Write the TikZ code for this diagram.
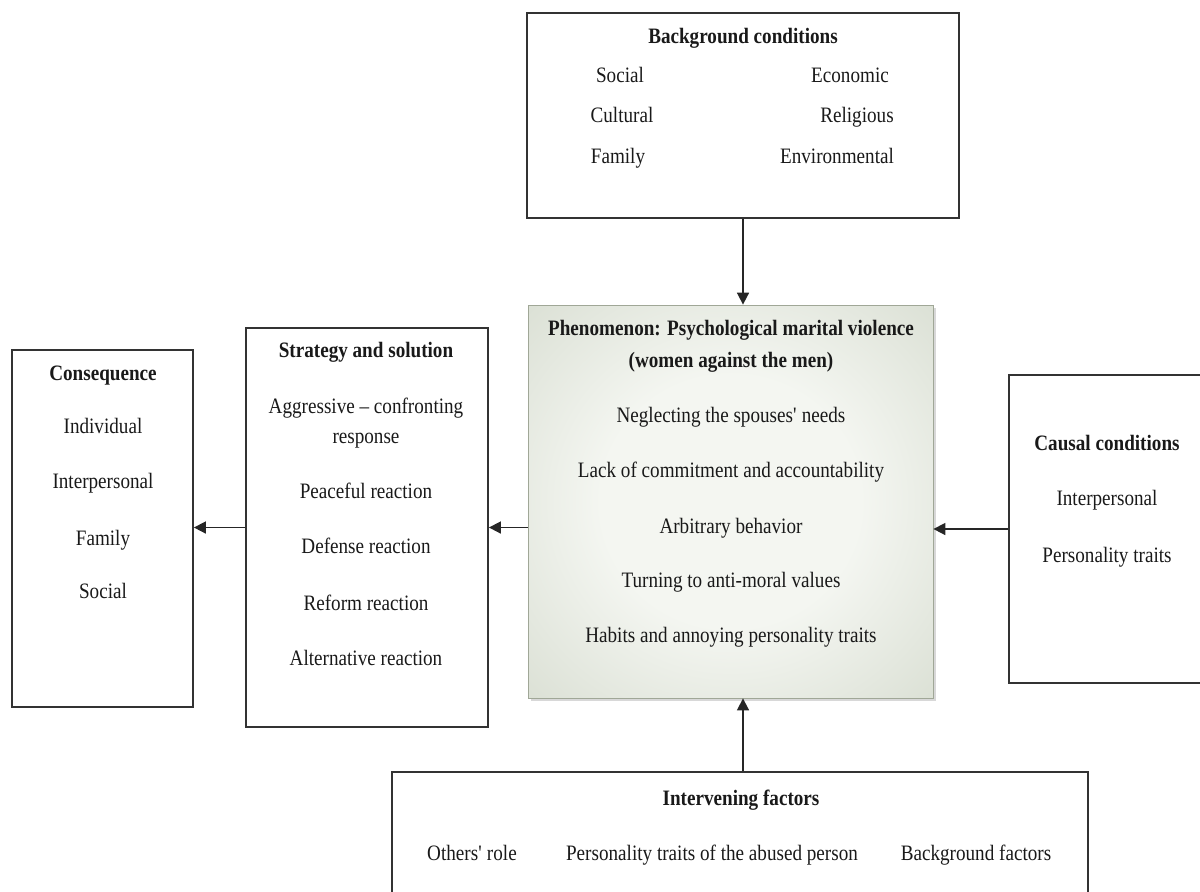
\documentclass[tikz,border=0pt]{standalone}
\usepackage{fontspec}
\setmainfont{Liberation Serif}[FakeStretch=0.87]
\usepackage{tikz}
\usetikzlibrary{arrows.meta, shadows}

\definecolor{phenedge}{RGB}{188,197,178}
\definecolor{phenmid}{RGB}{244,246,241}
\pgfdeclareradialshading{phenshade}{\pgfpoint{0bp}{0bp}}{color(0bp)=(phenmid); color(16bp)=(phenmid); color(60bp)=(phenedge); color(72bp)=(phenedge)}

\begin{document}
\begin{tikzpicture}[x=0.5pt, y=-0.5pt,
    box/.style={rectangle, draw=black!80, line width=0.9pt, inner sep=0pt},
    phenbox/.style={rectangle, draw=phenedge!85!black, line width=0.4pt, inner sep=0pt, shading=phenshade,
        drop shadow={shadow xshift=1.5pt, shadow yshift=-1.5pt, fill=black!30}},
    lbl/.style={inner sep=0pt, text height=8pt, text depth=2.5pt, font=\fontsize{11}{13}\selectfont, text=black!90},
    head/.style={lbl, font=\fontsize{11}{13}\selectfont\bfseries},
    arrow/.style={-{Triangle[length=6pt, width=6pt]}, line width=0.85pt, draw=black!85}
]
\useasboundingbox (0,0) rectangle (1200,891);
\clip (0,0) rectangle (1200,891);

% boxes
\node[box, minimum width=216pt, minimum height=102.5pt] (bg) at (743,115.5) {};
\node[phenbox, minimum width=202.5pt, minimum height=196.5pt] (phen) at (730.5,501.5) {};
\node[box, minimum width=98.5pt, minimum height=154pt] (causal) at (1107.5,529) {};
\node[box, minimum width=121pt, minimum height=199.5pt] (strat) at (367,527.5) {};
\node[box, minimum width=90.5pt, minimum height=178.5pt] (cons) at (102.5,528.5) {};
\node[box, minimum width=348pt, minimum height=66.5pt] (interv) at (740,838.5) {};

% background conditions
\node[head] (bgtitle) at (743,38) {Background conditions};
\node[lbl] (bgsoc) at (620,77) {Social};
\node[lbl] (bgeco) at (850,77) {Economic};
\node[lbl] (bgcul) at (622,117) {Cultural};
\node[lbl] (bgrel) at (857,117) {Religious};
\node[lbl] (bgfam) at (618,158) {Family};
\node[lbl] (bgenv) at (837,158) {Environmental};

% phenomenon
\node[head] (phentitle) at (731,330) {Phenomenon: Psychological marital violence};
\node[head] (phensub) at (731,362) {(women against the men)};
\node[lbl] (phena) at (731,417) {Neglecting the spouses\textquotesingle{} needs};
\node[lbl] (phenb) at (731,472) {Lack of commitment and accountability};
\node[lbl] (phenc) at (731,528) {Arbitrary behavior};
\node[lbl] (phend) at (731,582) {Turning to anti-moral values};
\node[lbl] (phene) at (731,637) {Habits and annoying personality traits};

% causal conditions
\node[head] (causaltitle) at (1107,445) {Causal conditions};
\node[lbl] (causala) at (1107,500) {Interpersonal};
\node[lbl] (causalb) at (1107,557) {Personality traits};

% strategy and solution
\node[head] (strattitle) at (366,352) {Strategy and solution};
\node[lbl] (strata) at (366,408) {Aggressive – confronting};
\node[lbl] (stratb) at (366,438) {response};
\node[lbl] (stratc) at (366,493) {Peaceful reaction};
\node[lbl] (stratd) at (366,548) {Defense reaction};
\node[lbl] (strate) at (366,605) {Reform reaction};
\node[lbl] (stratf) at (366,660) {Alternative reaction};

% consequence
\node[head] (constitle) at (103,375) {Consequence};
\node[lbl] (consa) at (103,428) {Individual};
\node[lbl] (consb) at (103,483) {Interpersonal};
\node[lbl] (consc) at (103,540) {Family};
\node[lbl] (consd) at (103,593) {Social};

% intervening factors
\node[head] (intervtitle) at (741,800) {Intervening factors};
\node[lbl] (interva) at (472,855) {Others\textquotesingle{} role};
\node[lbl] (intervb) at (712,855) {Personality traits of the abused person};
\node[lbl] (intervc) at (976,855) {Background factors};

% arrows
\draw[arrow] (bg.south) -- (bg.south |- phen.north);
\draw[arrow] (interv.north -| bg.south) -- (phen.south -| bg.south);
\draw[arrow] (causal.west) -- (causal.west -| phen.east);
\draw[arrow] (phen.west |- strat.east) -- (strat.east);
\draw[arrow] (strat.west) -- (strat.west -| cons.east);

\end{tikzpicture}
\end{document}
